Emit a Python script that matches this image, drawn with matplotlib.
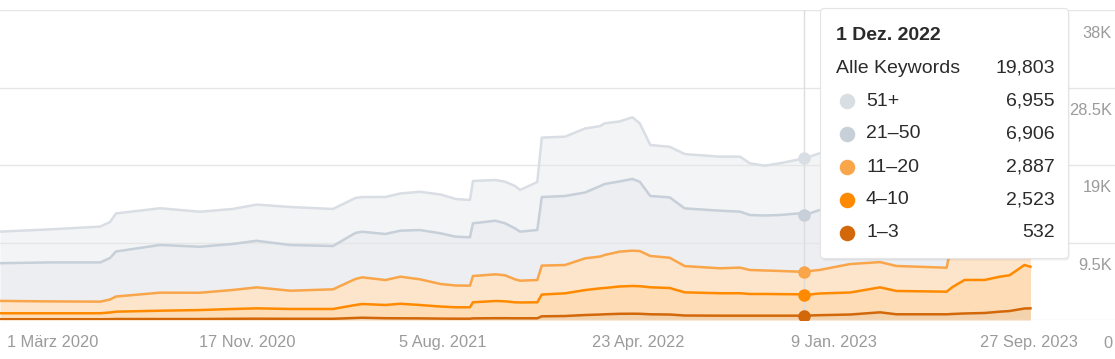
import numpy as np
import pandas as pd
import matplotlib
matplotlib.use('Agg')
import matplotlib.pyplot as plt
import matplotlib.dates as mdates
from matplotlib.patches import FancyBboxPatch
from matplotlib.transforms import ScaledTranslation

plt.rcParams['font.family'] = ['Liberation Sans', 'DejaVu Sans']

dates = ['2019-12-22', '2020-02-27', '2020-05-04', '2020-05-17', '2020-05-25', '2020-07-23',
         '2020-09-14', '2020-10-28', '2020-11-29', '2021-01-13', '2021-03-11', '2021-04-10',
         '2021-04-19', '2021-05-20', '2021-06-09', '2021-07-05', '2021-08-02', '2021-08-22',
         '2021-09-10', '2021-09-14', '2021-10-14', '2021-10-27', '2021-11-09', '2021-11-16',
         '2021-12-09', '2021-12-15', '2022-01-15', '2022-02-11', '2022-03-03', '2022-03-09',
         '2022-03-29', '2022-04-15', '2022-04-25', '2022-05-09', '2022-06-04', '2022-06-24',
         '2022-08-10', '2022-09-06', '2022-09-19', '2022-10-09', '2022-10-29', '2022-11-25',
         '2022-12-01', '2022-12-21', '2023-01-31', '2023-03-12', '2023-04-03', '2023-06-09',
         '2023-06-17', '2023-07-03', '2023-07-30', '2023-08-19', '2023-09-01', '2023-09-21',
         '2023-09-29']

pos_1_3 = [90, 90, 90, 100, 120, 120, 120, 150, 160, 150,
           150, 250, 280, 220, 210, 200, 170, 160, 160, 200,
           220, 220, 210, 210, 210, 450, 490, 610, 670, 700,
           760, 770, 760, 700, 670, 550, 530, 530, 530, 530,
           530, 530, 532, 590, 670, 940, 700, 700, 740, 800,
           860, 1020, 1100, 1410, 1430]
pos_4_10 = [740, 740, 740, 820, 900, 1020, 1100, 1200, 1270, 1200,
            1200, 1590, 1680, 1620, 1780, 1640, 1480, 1400, 1400, 1970,
            2110, 2070, 1960, 1940, 1960, 2670, 2780, 3060, 3210, 3220,
            3350, 3400, 3380, 3310, 3250, 2840, 2750, 2750, 2660, 2660,
            2640, 2620, 2523, 2660, 2700, 3060, 2860, 2770, 3310, 4110,
            4050, 4290, 4380, 5330, 5100]
pos_11_20 = [1510, 1450, 1420, 1590, 1860, 2210, 2120, 2330, 2570, 2240,
             2410, 3190, 3270, 3060, 3320, 3150, 2760, 2670, 2650, 3220,
             3270, 3190, 2820, 2670, 2730, 3550, 3470, 3890, 3900, 4050,
             4270, 4330, 4310, 3840, 3710, 3220, 3060, 3140, 2940, 2880,
             2840, 2770, 2887, 2880, 3490, 3100, 3060, 2940, 6010, 5390,
             5520, 5360, 5430, 4780, 4870]
pos_21_50 = [4620, 4780, 4810, 5090, 5520, 5850, 5640, 5640, 5710, 5600,
             5310, 5640, 5590, 5640, 5640, 6040, 6210, 5980, 5930, 6460,
             6570, 6370, 6250, 6010, 6130, 8400, 8460, 8070, 8640, 8700,
             8610, 8790, 8490, 7350, 7400, 7070, 7060, 6860, 6740, 6740,
             6860, 7160, 6906, 7350, 6990, 6990, 7230, 7320, 6500, 6500,
             6500, 6500, 6500, 6620, 6620]
pos_51 = [3870, 4050, 4390, 4410, 4660, 4500, 4290, 4290, 4440, 4660,
          4540, 4290, 4250, 4540, 4560, 4690, 4760, 4620, 4570, 5190,
          4990, 5100, 5190, 5110, 5880, 7290, 7270, 7850, 7350, 7440,
          7350, 7560, 7160, 6250, 6200, 6660, 6620, 6740, 6340, 6100,
          6340, 6620, 6955, 6950, 6990, 6990, 6990, 6990, 7350, 7350,
          7350, 7350, 7350, 7350, 7350]

series_names = ['1–3', '4–10', '11–20', '21–50', '51+']
line_colors = ['#d2680a', '#ff8a00', '#f9a54a', '#c7cfd9', '#d9dee4']
fill_colors = ['#f4d2ac', '#fedcb6', '#fde5cb', '#eceef2', '#f3f4f6']

x_tick_dates = ['2020-03-01', '2020-11-17', '2021-08-05', '2022-04-23', '2023-01-09', '2023-09-27']
x_tick_labels = ['1 März 2020', '17 Nov. 2020', '5 Aug. 2021', '23 Apr. 2022', '9 Jan. 2023', '27 Sep. 2023']
y_ticks = [0, 9500, 19000, 28500, 38000]
y_tick_labels = ['0', '9.5K', '19K', '28.5K', '38K']

hover_date = '2022-12-01'
hover_title = '1 Dez. 2022'
total_label = 'Alle Keywords'

W, H = 1115, 359
fig = plt.figure(figsize=(W / 100, H / 100), dpi=100)
ax = fig.add_axes([0, (H - 320) / H, 1, 310 / H])

x = pd.to_datetime(dates)
stack = np.array([pos_1_3, pos_4_10, pos_11_20, pos_21_50, pos_51], dtype=float)
cum = np.cumsum(stack, axis=0)

lower = np.zeros(len(x))
for i in range(len(series_names)):
    ax.fill_between(x, lower, cum[i], color=fill_colors[i], lw=0, zorder=1)
    lower = cum[i]

for v in y_ticks:
    ax.axhline(v, color='#e6e6e6', lw=1, zorder=1.5)

hx = pd.Timestamp(hover_date)
ax.axvline(hx, color='#dddddd', lw=1, zorder=1.6)

for i in range(len(series_names)):
    ax.plot(x, cum[i], color=line_colors[i], lw=1.8, zorder=3, solid_joinstyle='round')

hi = list(x).index(hx)
for i in range(len(series_names)):
    ax.plot([hx], [cum[i][hi]], 'o', ms=9, color=line_colors[i], mec='none', zorder=4)

ax.set_xlim(pd.Timestamp('2019-12-22'), pd.Timestamp('2024-01-20'))
ax.set_ylim(0, 38000)
for s in ax.spines.values():
    s.set_visible(False)
ax.set_yticks([])
ax.set_xticks(pd.to_datetime(x_tick_dates))
ax.set_xticklabels(x_tick_labels)
ax.tick_params(axis='x', length=0, pad=11, labelsize=11.8, labelcolor='#9b9b9b')

# y labels sit just under their grid line, inside the plot
offset = ScaledTranslation(0, -0.23, fig.dpi_scale_trans)
for v, lab in zip(y_ticks, y_tick_labels):
    ax.text(1112 / W, v, lab, transform=ax.get_yaxis_transform() + offset,
            ha='right', va='center', fontsize=11.8, color='#9b9b9b', clip_on=False)

# tooltip box
tl, tt, tw, th = 820, 8, 250, 252
tax = fig.add_axes([tl / W, (H - tt - th) / H, tw / W, th / H])
tax.set_xlim(0, tw)
tax.set_ylim(th, 0)
tax.axis('off')
shadow = FancyBboxPatch((1.5, 2.5), tw - 2, th - 2, boxstyle='round,pad=0,rounding_size=4',
                        fc='black', ec='none', alpha=0.06, clip_on=False)
tax.add_patch(shadow)
box = FancyBboxPatch((0.5, 0.5), tw - 2, th - 2, boxstyle='round,pad=0,rounding_size=4',
                     fc='white', ec='#e4e4e4', lw=0.8, clip_on=False)
tax.add_patch(box)

txt = '#2b2b2b'
tax.text(16, 27, hover_title, fontsize=14, fontweight='bold', color=txt, va='center')
total = int(stack[:, hi].sum())
tax.text(16, 60, total_label, fontsize=14, color=txt, va='center')
tax.text(235, 60, f'{total:,}', fontsize=14, color=txt, va='center', ha='right')
row_y = 93
for i in reversed(range(len(series_names))):
    tax.scatter([27], [row_y], s=125, color=line_colors[i], lw=0, zorder=3)
    tax.text(46, row_y, series_names[i], fontsize=14, color=txt, va='center')
    tax.text(235, row_y, f'{int(stack[i][hi]):,}', fontsize=14, color=txt, va='center', ha='right')
    row_y += 33

fig.savefig('out.png', dpi=100)
